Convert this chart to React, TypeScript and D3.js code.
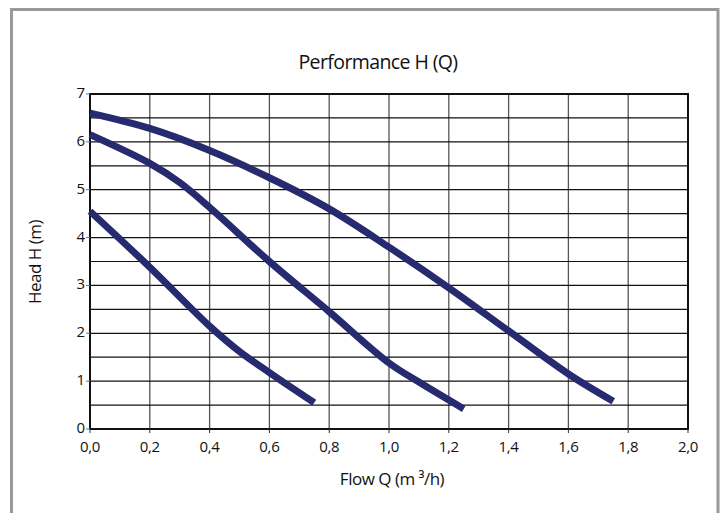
import React from "react";
import * as d3 from "d3";

const flowCurve1 = [0, 0.2, 0.4, 0.6, 0.8, 1.0, 1.2, 1.4, 1.6, 1.75];
const headCurve1 = [6.6, 6.28, 5.82, 5.25, 4.6, 3.8, 2.95, 2.05, 1.15, 0.58];
const flowCurve2 = [0, 0.2, 0.3, 0.4, 0.6, 0.8, 1.0, 1.1, 1.25];
const headCurve2 = [6.15, 5.55, 5.15, 4.63, 3.5, 2.45, 1.38, 0.98, 0.42];
const flowCurve3 = [0, 0.2, 0.4, 0.5, 0.6, 0.75];
const headCurve3 = [4.55, 3.38, 2.15, 1.62, 1.18, 0.55];

const xTicks = [0, 0.2, 0.4, 0.6, 0.8, 1.0, 1.2, 1.4, 1.6, 1.8, 2.0];
const yTicks = [0, 1, 2, 3, 4, 5, 6, 7];
const yGrid = [0.5, 1, 1.5, 2, 2.5, 3, 3.5, 4, 4.5, 5, 5.5, 6, 6.5];

const title = "Performance H (Q)";
const xLabel = "Flow Q (m ³/h)";
const yLabel = "Head H (m)";

export default function App() {
  const W = 721, H = 513;
  const left = 90, right = 688, top = 94, bottom = 429;
  const x = d3.scaleLinear().domain([0, 2]).range([left, right]);
  const y = d3.scaleLinear().domain([0, 7]).range([bottom, top]);
  const line = d3.line<[number, number]>().x(d => x(d[0])).y(d => y(d[1])).curve(d3.curveCatmullRom.alpha(0.5));
  const curves = [
    flowCurve1.map((f, i) => [f, headCurve1[i]] as [number, number]),
    flowCurve2.map((f, i) => [f, headCurve2[i]] as [number, number]),
    flowCurve3.map((f, i) => [f, headCurve3[i]] as [number, number]),
  ];
  const font = "'Open Sans', 'Noto Sans', sans-serif";
  return (
    <svg width={W} height={H} style={{ position: "absolute", left: 0, top: 0 }}>
      <rect x={0} y={0} width={W} height={H} fill="#fff" />
      <path d={`M11.5,${H + 5} V9.5 H718 V${H + 5}`} fill="none" stroke="#999" strokeWidth={3} />
      <text x={378} y={69} textAnchor="middle" fontFamily={font} fontSize={19.5} fill="#111" letterSpacing={-0.6}>{title}</text>
      {xTicks.slice(1, -1).map(t => (
        <line key={"vx" + t} x1={x(t)} x2={x(t)} y1={top} y2={bottom} stroke="#555" strokeWidth={1.3} />
      ))}
      {yGrid.map(t => (
        <line key={"hy" + t} x1={left} x2={right} y1={y(t)} y2={y(t)} stroke="#111" strokeWidth={1.2} />
      ))}
      <rect x={left} y={top} width={right - left} height={bottom - top} fill="none" stroke="#111" strokeWidth={2} />
      {xTicks.map(t => (
        <g key={"xt" + t}>
          <line x1={x(t)} x2={x(t)} y1={bottom} y2={bottom + 4} stroke="#333" strokeWidth={1} />
          <text x={x(t)} y={bottom + 23} textAnchor="middle" fontFamily={font} fontSize={15} fill="#111" letterSpacing={-0.3}>
            {d3.format(".1f")(t).replace(".", ",")}
          </text>
        </g>
      ))}
      {yTicks.map(t => (
        <g key={"yt" + t}>
          <line x1={left - 4} x2={left} y1={y(t)} y2={y(t)} stroke="#6a6aaa" strokeWidth={1} />
          <text x={left - 5} y={y(t) + 4} textAnchor="end" fontFamily={font} fontSize={15} fill="#111">{t}</text>
        </g>
      ))}
      {curves.map((c, i) => (
        <path key={"c" + i} d={line(c) || ""} fill="none" stroke="#262a6e" strokeWidth={7} strokeLinecap="butt" />
      ))}
      <text x={392} y={485} textAnchor="middle" fontFamily={font} fontSize={17} fill="#111" letterSpacing={-0.5}>{xLabel}</text>
      <text transform={`translate(41,262) rotate(-90)`} textAnchor="middle" fontFamily={font} fontSize={17} fill="#111" letterSpacing={-0.5}>{yLabel}</text>
    </svg>
  );
}
